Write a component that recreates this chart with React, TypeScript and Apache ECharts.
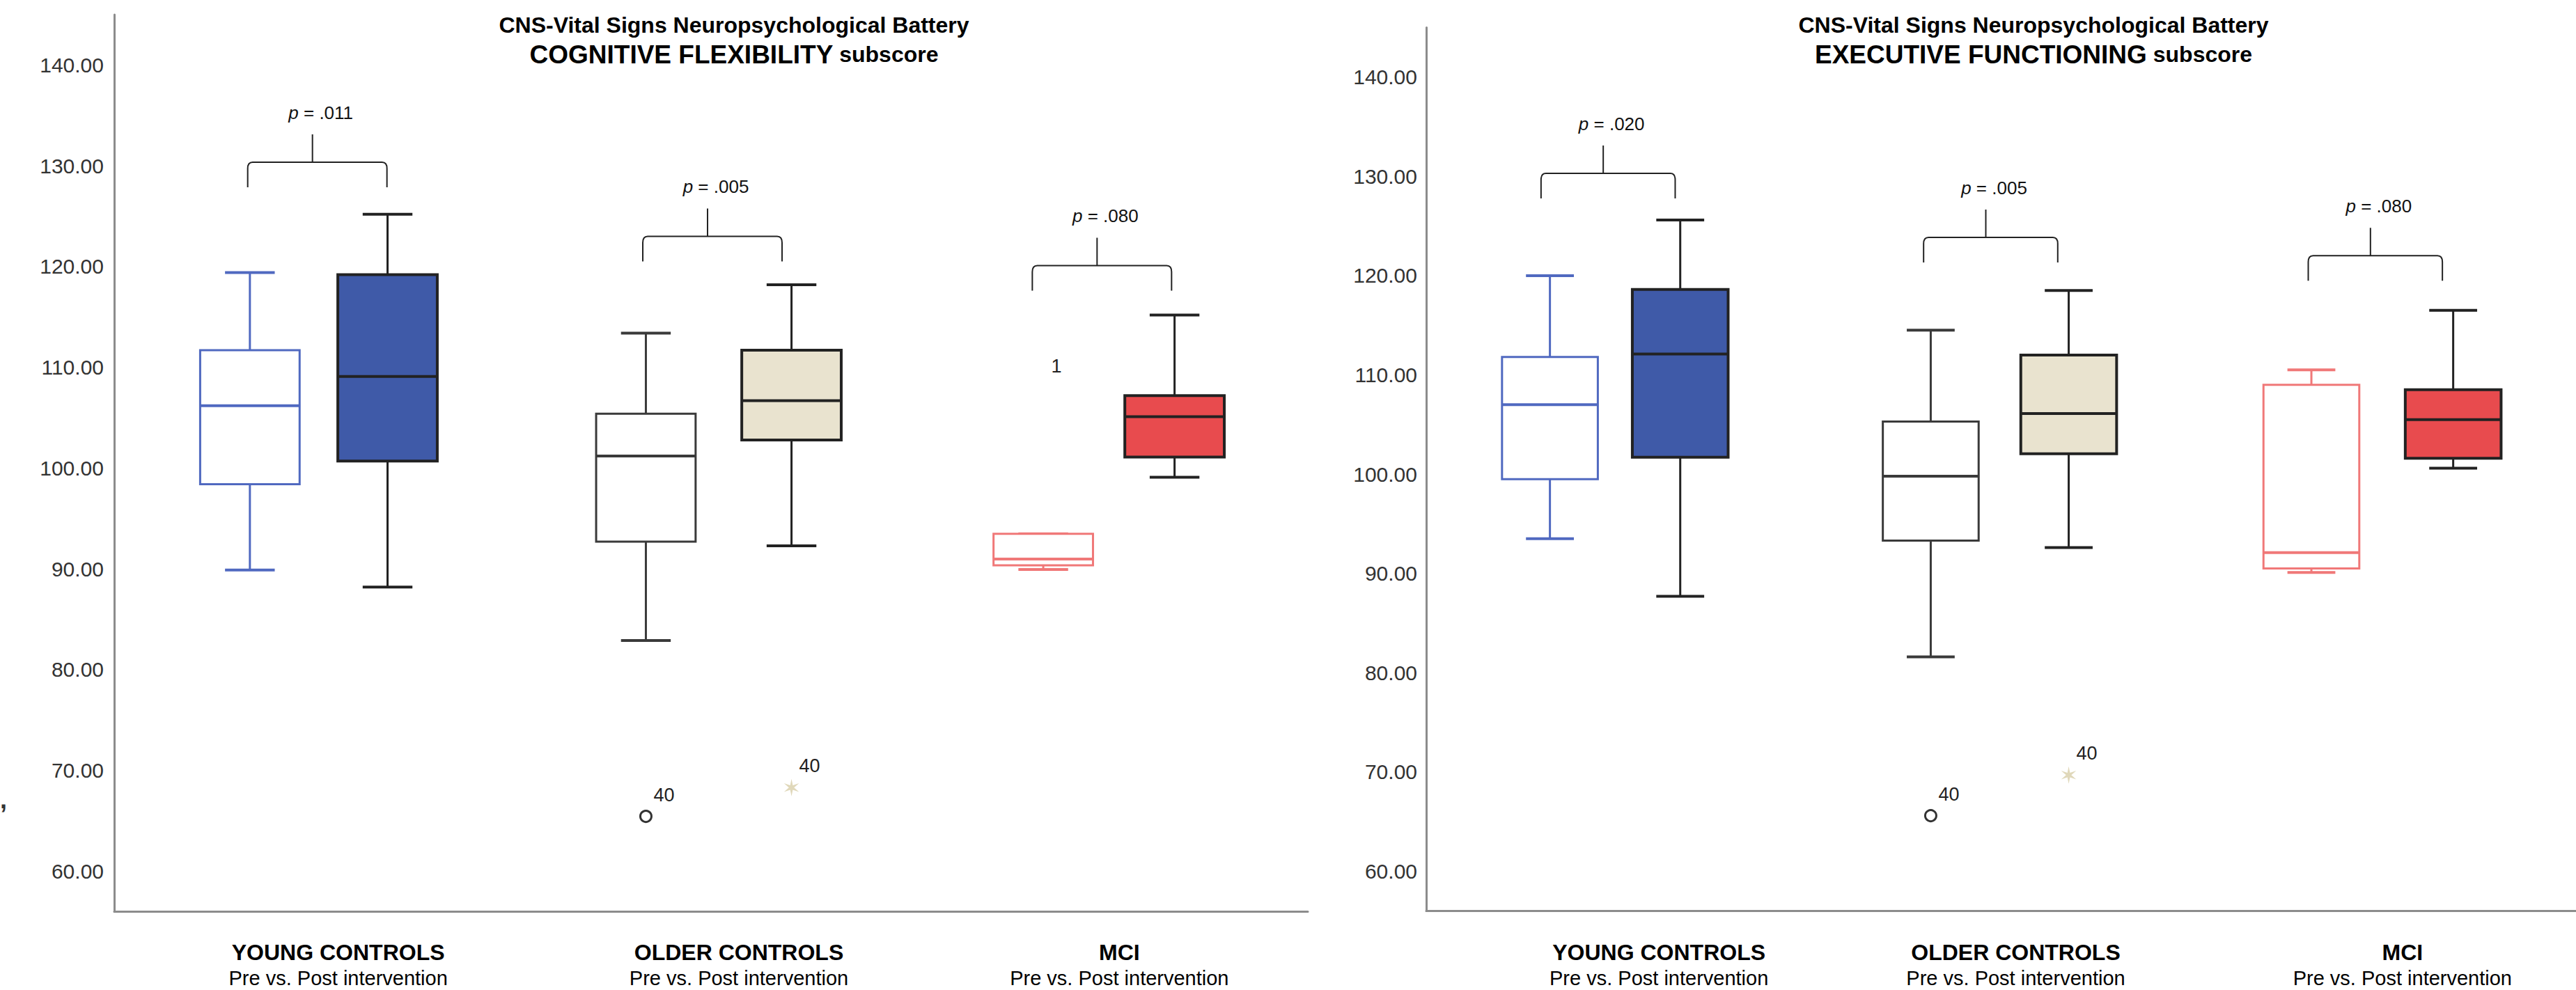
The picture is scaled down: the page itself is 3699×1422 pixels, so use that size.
import React, { useEffect, useRef } from "react";
import * as echarts from "echarts";

// ---------- DATA ----------
const categories = ["YOUNG CONTROLS", "OLDER CONTROLS", "MCI"];
const subLabel = "Pre vs. Post intervention";
const yTicks = [60, 70, 80, 90, 100, 110, 120, 130, 140];

// [min, Q1, median, Q3, max]
const cfPre = [
  [89.9, 98.4, 106.2, 111.7, 119.4],
  [82.9, 92.7, 101.2, 105.4, 113.4],
  [89.95, 90.36, 90.98, 93.49, 93.49],
];
const cfPost = [
  [88.2, 100.7, 109.1, 119.2, 125.2],
  [92.3, 102.8, 106.7, 111.7, 118.2],
  [99.1, 101.1, 105.1, 107.2, 115.2],
];
const efPre = [
  [93.5, 99.5, 107.0, 111.8, 120.0],
  [81.6, 93.3, 99.8, 105.3, 114.5],
  [90.1, 90.5, 92.1, 109.0, 110.5],
];
const efPost = [
  [87.7, 101.7, 112.1, 118.6, 125.6],
  [92.6, 102.05, 106.1, 112.0, 118.5],
  [100.6, 101.6, 105.5, 108.5, 116.5],
];

// outliers
const cfOutlierCats = [1, 1, 2];
const cfOutlierSides = [-1, 1, -1];
const cfOutlierValues = [65.45, 68.3, 110.1];
const cfOutlierIds = ["40", "40", "1"];
const cfOutlierMarks = ["circle", "star", "none"];
const efOutlierCats = [1, 1];
const efOutlierSides = [-1, 1];
const efOutlierValues = [65.6, 69.7];
const efOutlierIds = ["40", "40"];
const efOutlierMarks = ["circle", "star"];

// significance brackets
const cfBracketLevels = [130.35, 123.0, 120.1];
const cfPValues = [".011", ".005", ".080"];
const efBracketLevels = [130.3, 123.85, 122.0];
const efPValues = [".020", ".005", ".080"];

const chartTitle = "CNS-Vital Signs Neuropsychological Battery";
const cfTitle = "COGNITIVE FLEXIBILITY";
const efTitle = "EXECUTIVE FUNCTIONING";
const subscore = " subscore";

// ---------- STYLE / LAYOUT ----------
const FONT = '"Liberation Sans", Arial, Helvetica, sans-serif';
const preStroke = ["#5069C0", "#3a3a3a", "#F07878"];
const preFill = ["#ffffff", "#ffffff", "#ffffff"];
const postFill = ["#3F5AA8", "#E9E3CF", "#E84B4E"];
const postStroke = "#222222";
const AXIS_COLOR = "#8c8c8c";
const OFFSET = 0.175;
const BOXW = 0.25;

// per-group pixel nudges (layout only)
const leftGroupDx = [8, 11, 0];
const rightGroupDx = [-4, -2, -3];
const leftHalfSep = [0.173, 0.183, 0.165];
const rightHalfSep = [0.170, 0.180, 0.185];
const leftLabelShift = [36, 40, 15];
const rightLabelShift = [59, 21, 26];
const leftBracketDx = [6, 2, -10];
const rightBracketDx = [-14, -15, -13];

function boxCenter(api: any, cat: number, side: number, groupDx: number[], halfSep: number[]) {
  const bw = api.size([1, 0])[0];
  return api.coord([cat, 100])[0] + groupDx[cat] + side * halfSep[cat] * bw;
}

function boxRenderer(side: number, groupDx: number[], halfSep: number[]) {
  return (params: any, api: any) => {
    const cat = api.value(0);
    const mn = api.value(1);
    const q1 = api.value(2);
    const md = api.value(3);
    const q3 = api.value(4);
    const mx = api.value(5);
    const bw = api.size([1, 0])[0];
    const cx = boxCenter(api, cat, side, groupDx, halfSep);
    const half = (BOXW * bw) / 2;
    const capHalf = half / 2;
    const Y = (v: number) => api.coord([cat, v])[1];
    const isPre = side < 0;
    const stroke = isPre ? preStroke[cat] : postStroke;
    const fill = isPre ? preFill[cat] : postFill[cat];
    const lw = isPre ? 3 : 4;
    const wl = { stroke, lineWidth: 3 };
    return {
      type: "group",
      children: [
        { type: "line", shape: { x1: cx, y1: Y(mx), x2: cx, y2: Y(q3) }, style: wl },
        { type: "line", shape: { x1: cx, y1: Y(q1), x2: cx, y2: Y(mn) }, style: wl },
        { type: "line", shape: { x1: cx - capHalf, y1: Y(mx), x2: cx + capHalf, y2: Y(mx) }, style: { stroke, lineWidth: 4 } },
        { type: "line", shape: { x1: cx - capHalf, y1: Y(mn), x2: cx + capHalf, y2: Y(mn) }, style: { stroke, lineWidth: 4 } },
        {
          type: "rect",
          shape: { x: cx - half, y: Y(q3), width: 2 * half, height: Y(q1) - Y(q3) },
          style: { fill, stroke, lineWidth: lw },
        },
        { type: "line", shape: { x1: cx - half, y1: Y(md), x2: cx + half, y2: Y(md) }, style: { stroke, lineWidth: 4 } },
      ],
    };
  };
}

function outlierRenderer(ids: string[], marks: string[], groupDx: number[], halfSep: number[]) {
  return (params: any, api: any) => {
    const i = params.dataIndex;
    const cat = api.value(0);
    const side = api.value(1);
    const v = api.value(2);
    const x = boxCenter(api, cat, side, groupDx, halfSep);
    const y = api.coord([cat, v])[1];
    const children: any[] = [];
    const mark = marks[i];
    if (mark === "circle") {
      children.push({ type: "circle", shape: { cx: x, cy: y, r: 8 }, style: { fill: "#fff", stroke: "#333", lineWidth: 3 } });
    } else if (mark === "star") {
      const s = 1.25;
      const pts = [
        [0, -10], [1.5, -2.6], [8.66, -5], [3, 0], [8.66, 5], [1.5, 2.6],
        [0, 10], [-1.5, 2.6], [-8.66, 5], [-3, 0], [-8.66, -5], [-1.5, -2.6],
      ].map((q) => [x + q[0] * s, y + q[1] * s]);
      children.push({ type: "polygon", shape: { points: pts }, style: { fill: "#E0D8BA" } });
    }
    const lx = mark === "none" ? x + 19 : x + 26;
    const ly = mark === "none" ? y : y - 31;
    children.push({
      type: "text",
      x: lx,
      y: ly,
      style: { text: ids[i], fontSize: 27, fontFamily: FONT, fill: "#222", align: "center", verticalAlign: "middle" },
    });
    return { type: "group", children };
  };
}

function bracketRenderer(pvals: string[], dxs: number[]) {
  return (params: any, api: any) => {
    const i = params.dataIndex;
    const cat = api.value(0);
    const lvl = api.value(1);
    const bw = api.size([1, 0])[0];
    const c = api.coord([cat, lvl]);
    const cx = c[0] + dxs[i];
    const yH = c[1];
    const xL = cx - OFFSET * bw;
    const xR = cx + OFFSET * bw;
    const yB = yH + 36;
    const sx = cx - 7;
    const d =
      `M${xL},${yB} L${xL},${yH + 9} Q${xL},${yH} ${xL + 7},${yH} L${xR - 7},${yH} ` +
      `Q${xR},${yH} ${xR},${yH + 9} L${xR},${yB} M${sx},${yH} L${sx},${yH - 40}`;
    return {
      type: "group",
      children: [
        { type: "path", shape: { pathData: d }, style: { fill: "none", stroke: "#222", lineWidth: 2 } },
        {
          type: "text",
          x: sx + 12,
          y: yH - 71,
          style: {
            text: `{i|p} = ${pvals[i]}`,
            fontSize: 26,
            fontFamily: FONT,
            fill: "#111",
            align: "center",
            verticalAlign: "middle",
            rich: { i: { fontSize: 26, fontStyle: "italic", fontFamily: FONT, fill: "#111" } },
          },
        },
      ],
    };
  };
}

function xAxisFor(gridIndex: number, shifts: number[]) {
  const rich: any = {};
  shifts.forEach((s, i) => {
    rich["a" + i] = { fontSize: 32, fontWeight: "bold", fontFamily: FONT, color: "#000", lineHeight: 38, padding: [0, 0, 0, 2 * s] };
    rich["b" + i] = { fontSize: 29, fontFamily: FONT, color: "#000", lineHeight: 36, padding: [0, 0, 0, 2 * s] };
  });
  return {
    type: "category",
    gridIndex,
    data: categories,
    boundaryGap: true,
    axisLine: { show: true, lineStyle: { color: AXIS_COLOR, width: 3 } },
    axisTick: { show: false },
    splitLine: { show: false },
    axisLabel: {
      interval: 0,
      margin: 40,
      formatter: (v: string, i: number) => `{a${i}|${v}}\n{b${i}|${subLabel}}`,
      rich,
    },
  };
}

function yAxisFor(gridIndex: number, margin: number) {
  return {
    type: "value",
    gridIndex,
    min: 56,
    max: 145,
    axisLine: { show: true, lineStyle: { color: AXIS_COLOR, width: 3 } },
    axisTick: { show: false },
    splitLine: { show: false },
    axisLabel: {
      customValues: yTicks,
      formatter: (v: number) => v.toFixed(2),
      fontSize: 30,
      fontFamily: FONT,
      color: "#333",
      margin,
    },
  };
}

function titleGraphic(x: number, main: string) {
  return {
    type: "text",
    x,
    y: 15,
    style: {
      text: `{a|${chartTitle}}\n{b|${main}}{c|${subscore}}`,
      align: "center",
      verticalAlign: "top",
      fill: "#000",
      fontFamily: FONT,
      rich: {
        a: { fontSize: 32, fontWeight: "bold", fontFamily: FONT, lineHeight: 42, fill: "#000" },
        b: { fontSize: 37, fontWeight: "bold", fontFamily: FONT, lineHeight: 42, fill: "#000" },
        c: { fontSize: 32, fontWeight: "bold", fontFamily: FONT, lineHeight: 42, fill: "#000" },
      },
    },
  };
}

function buildOption() {
  const idx = categories.map((_, i) => i);
  return {
    animation: false,
    backgroundColor: "#ffffff",
    grid: [
      { left: 164, top: 21, width: 1714, height: 1288.4 },
      { left: 2048, top: 39.4, width: 1701, height: 1269.1 },
    ],
    xAxis: [xAxisFor(0, leftLabelShift), xAxisFor(1, rightLabelShift)],
    yAxis: [yAxisFor(0, 15), yAxisFor(1, 13)],
    graphic: [
      titleGraphic(1054, cfTitle),
      titleGraphic(2920, efTitle),
      {
        type: "text",
        x: 0,
        y: 1148,
        style: { text: ",", fontSize: 36, fontWeight: "bold", fontFamily: FONT, fill: "#333", verticalAlign: "middle" },
      },
    ],
    series: [
      { type: "custom", name: "CF Pre", xAxisIndex: 0, yAxisIndex: 0, renderItem: boxRenderer(-1, leftGroupDx, leftHalfSep), encode: { x: 0, y: [1, 2, 3, 4, 5] }, data: cfPre.map((d, i) => [idx[i], ...d]), clip: false },
      { type: "custom", name: "CF Post", xAxisIndex: 0, yAxisIndex: 0, renderItem: boxRenderer(1, leftGroupDx, leftHalfSep), encode: { x: 0, y: [1, 2, 3, 4, 5] }, data: cfPost.map((d, i) => [idx[i], ...d]), clip: false },
      { type: "custom", name: "EF Pre", xAxisIndex: 1, yAxisIndex: 1, renderItem: boxRenderer(-1, rightGroupDx, rightHalfSep), encode: { x: 0, y: [1, 2, 3, 4, 5] }, data: efPre.map((d, i) => [idx[i], ...d]), clip: false },
      { type: "custom", name: "EF Post", xAxisIndex: 1, yAxisIndex: 1, renderItem: boxRenderer(1, rightGroupDx, rightHalfSep), encode: { x: 0, y: [1, 2, 3, 4, 5] }, data: efPost.map((d, i) => [idx[i], ...d]), clip: false },
      { type: "custom", name: "CF Outliers", xAxisIndex: 0, yAxisIndex: 0, renderItem: outlierRenderer(cfOutlierIds, cfOutlierMarks, leftGroupDx, leftHalfSep), encode: { x: 0, y: 2 }, data: cfOutlierCats.map((c, i) => [c, cfOutlierSides[i], cfOutlierValues[i]]), clip: false },
      { type: "custom", name: "EF Outliers", xAxisIndex: 1, yAxisIndex: 1, renderItem: outlierRenderer(efOutlierIds, efOutlierMarks, rightGroupDx, rightHalfSep), encode: { x: 0, y: 2 }, data: efOutlierCats.map((c, i) => [c, efOutlierSides[i], efOutlierValues[i]]), clip: false },
      { type: "custom", name: "CF Brackets", xAxisIndex: 0, yAxisIndex: 0, renderItem: bracketRenderer(cfPValues, leftBracketDx), encode: { x: 0, y: 1 }, data: cfBracketLevels.map((l, i) => [idx[i], l]), clip: false },
      { type: "custom", name: "EF Brackets", xAxisIndex: 1, yAxisIndex: 1, renderItem: bracketRenderer(efPValues, rightBracketDx), encode: { x: 0, y: 1 }, data: efBracketLevels.map((l, i) => [idx[i], l]), clip: false },
    ],
  };
}

export default function App() {
  const ref = useRef<HTMLDivElement>(null);
  useEffect(() => {
    document.body.style.margin = "0";
    const chart = echarts.init(ref.current as HTMLDivElement, null, { renderer: "svg" });
    chart.setOption(buildOption() as any);
    return () => chart.dispose();
  }, []);
  return (
    <div
      ref={ref}
      style={{ position: "absolute", left: 0, top: 0, width: 3699, height: 1422, background: "#fff" }}
    />
  );
}
